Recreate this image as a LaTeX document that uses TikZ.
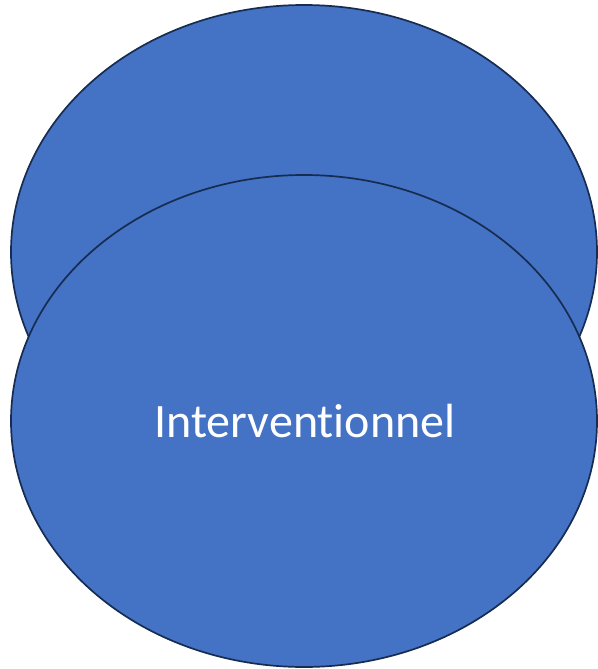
\documentclass[tikz,border=0pt]{standalone}
\usepackage{fontspec}
\setmainfont[RawFeature={-liga;-clig;-dlig}]{Carlito}
\definecolor{fillblue}{HTML}{4472C4}
\definecolor{edgeblue}{HTML}{172C51}
\begin{document}
\begin{tikzpicture}[x=1pt,y=-1pt,
  blob/.style={fill=fillblue,draw=edgeblue,line width=1.7pt}]
\useasboundingbox (0,0) rectangle (597,669);
\path[blob] (304,252) ellipse [x radius=293, y radius=247];
\path[blob] (304,421) ellipse [x radius=293, y radius=246];
\node[anchor=base,text=white,font=\fontsize{48}{56}\selectfont,inner sep=0pt] (lbl) at (305,437) {Interventionnel};
\end{tikzpicture}
\end{document}
